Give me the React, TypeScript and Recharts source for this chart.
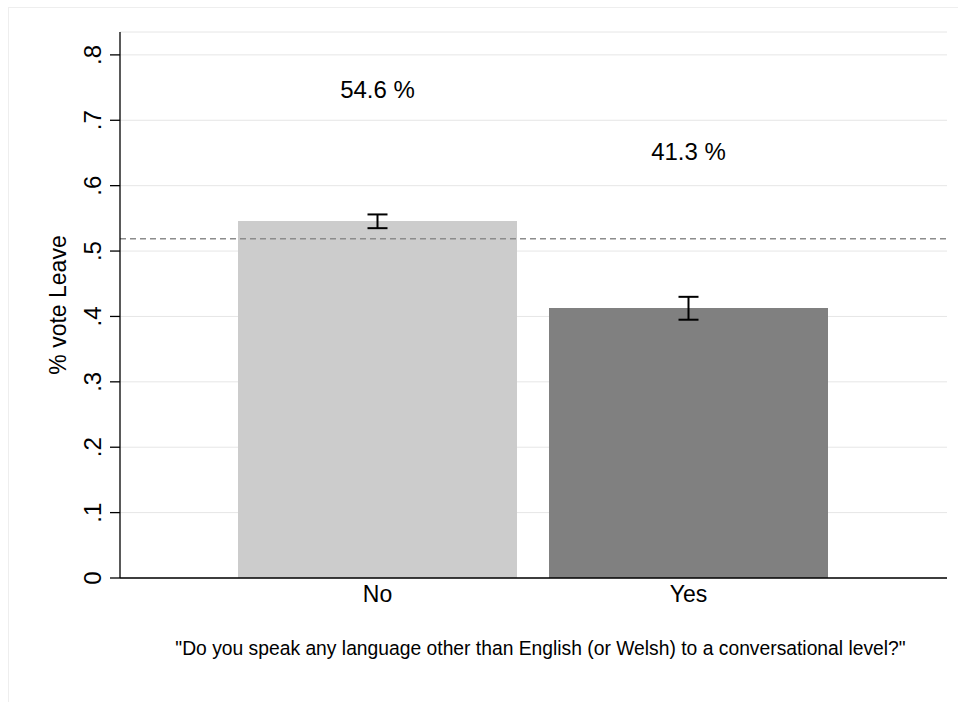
import {
  ComposedChart,
  Bar,
  Cell,
  Line,
  XAxis,
  YAxis,
  CartesianGrid,
  ReferenceLine,
  ErrorBar,
  LabelList,
  Label,
} from 'recharts'

const categories = ['No', 'Yes']
const leaveShare = [0.546, 0.413]
const ciLow = [0.535, 0.395]
const ciHigh = [0.556, 0.43]
const shareLabels = ['54.6 %', '41.3 %']
const labelHeight = [0.747, 0.653]
const barColors = ['#cccccc', '#808080']
const overallLeave = 0.519
const yTicks = [0, 0.1, 0.2, 0.3, 0.4, 0.5, 0.6, 0.7, 0.8]

const FONT = '"Liberation Sans", Arial, Helvetica, sans-serif'

const data = categories.map((c, i) => ({
  name: c,
  share: leaveShare[i],
  err: [leaveShare[i] - ciLow[i], ciHigh[i] - leaveShare[i]],
  labelY: labelHeight[i],
  labelText: shareLabels[i],
}))

const fmtTick = (v: number) => (v === 0 ? '0' : v.toFixed(1).replace(/^0/, ''))

function RotatedTick(props: any) {
  const { x, y, payload } = props
  return (
    <text
      x={x}
      y={y}
      transform={`rotate(-90 ${x} ${y})`}
      textAnchor="middle"
      fontSize={24}
      fontFamily={FONT}
      fill="#000"
    >
      {fmtTick(payload.value)}
    </text>
  )
}

export default function App() {
  return (
    <div style={{ position: 'absolute', left: 0, top: 0, width: 958, height: 702, background: '#fff' }}>
      <div
        style={{
          position: 'absolute',
          left: 8,
          top: 7,
          width: 950,
          height: 695,
          borderTop: '1px solid #eeeeee',
          borderLeft: '1px solid #eeeeee',
        }}
      />
      <ComposedChart
        width={958}
        height={702}
        data={data}
        margin={{ top: 32, right: 11, bottom: 0, left: 0 }}
        style={{ position: 'absolute', left: 0, top: 0 }}
      >
        <CartesianGrid vertical={false} stroke="#e6e6e6" strokeWidth={1} />
        <XAxis
          dataKey="name"
          height={124}
          padding={{ left: 102, right: 103 }}
          tickLine={false}
          tickSize={0}
          tickMargin={8}
          axisLine={{ stroke: '#000', strokeWidth: 1.3 }}
          tick={{ fontSize: 23, fontFamily: FONT, fill: '#000' }}
        >
          <Label
            value={'"Do you speak any language other than English (or Welsh) to a conversational level?"'}
            position="insideBottom"
            offset={47}
            dx={7}
            style={{ fontSize: 19.3, fontFamily: FONT, fill: '#000' }}
          />
        </XAxis>
        <YAxis
          width={120}
          domain={[0, 0.835]}
          ticks={yTicks}
          allowDataOverflow
          tickSize={10}
          tickMargin={9}
          tickLine={{ stroke: '#000', strokeWidth: 1.3 }}
          axisLine={{ stroke: '#000', strokeWidth: 1.3 }}
          tick={<RotatedTick />}
        >
          <Label
            value="% vote Leave"
            angle={-90}
            position="center"
            dx={-2}
            style={{ fontSize: 23, fontFamily: FONT, fill: '#000' }}
          />
        </YAxis>
        <Bar dataKey="share" barSize={279} isAnimationActive={false}>
          {data.map((d, i) => (
            <Cell key={d.name} fill={barColors[i]} />
          ))}
          <ErrorBar dataKey="err" width={10} stroke="#000" strokeWidth={2} />
        </Bar>
        <ReferenceLine y={overallLeave} stroke="#8c8c8c" strokeWidth={1.5} strokeDasharray="6 4" />
        <Line
          dataKey="labelY"
          stroke="none"
          dot={false}
          activeDot={false}
          legendType="none"
          isAnimationActive={false}
        >
          <LabelList
            dataKey="labelText"
            position="center"
            style={{ fontSize: 24, fontFamily: FONT, fill: '#000' }}
          />
        </Line>
      </ComposedChart>
    </div>
  )
}
